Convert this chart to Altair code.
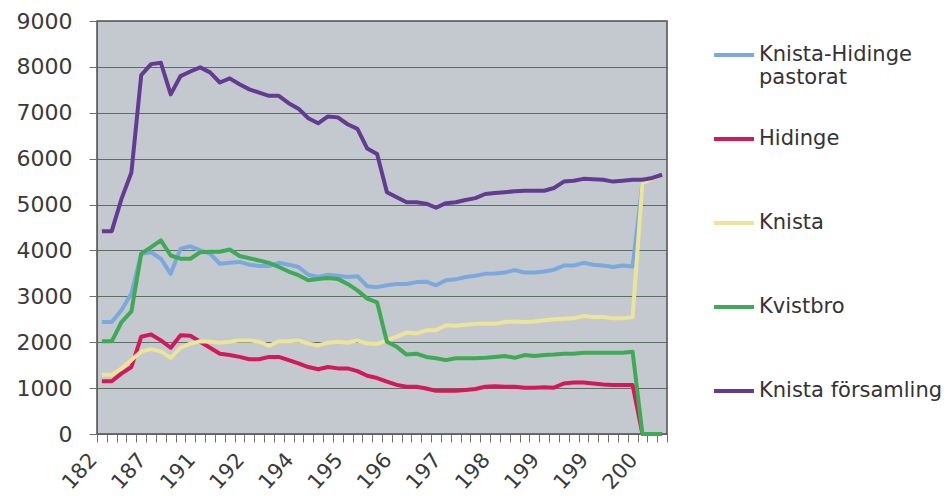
import altair as alt
import pandas as pd

series = ["Knista-Hidinge pastorat", "Hidinge", "Knista", "Kvistbro", "Knista församling"]
colors = ["#7BA9DE", "#D2195A", "#ECE49A", "#3FAA55", "#633C91"]
tick_labels = ["182", "187", "191", "192", "194", "195", "196", "197", "198", "199", "199", "200"]

pastorat = [2440, 2440, 2700, 3060, 3930, 3960, 3820, 3490, 4040, 4090,
            4000, 3930, 3710, 3730, 3750, 3690, 3660, 3660, 3730, 3690,
            3640, 3470, 3420, 3470, 3450, 3420, 3440, 3220, 3200, 3240,
            3270, 3270, 3310, 3320, 3240, 3350, 3370, 3420, 3450, 3490,
            3500, 3520, 3570, 3520, 3520, 3540, 3580, 3670, 3670, 3730,
            3690, 3670, 3640, 3670, 3650, 5460, 5560, 5640]
hidinge = [1150, 1150, 1320, 1460, 2120, 2170, 2040, 1880, 2150, 2140,
           2010, 1880, 1750, 1720, 1680, 1630, 1630, 1680, 1680, 1610,
           1540, 1460, 1410, 1460, 1430, 1430, 1370, 1270, 1220, 1140,
           1070, 1030, 1030, 990, 940, 940, 940, 960, 980, 1030,
           1040, 1030, 1030, 1010, 1010, 1020, 1010, 1100, 1120, 1120,
           1100, 1080, 1070, 1070, 1070, 0, 0, 0]
knista = [1290, 1290, 1430, 1610, 1800, 1850, 1800, 1660, 1880, 1970,
          2020, 2010, 1990, 2010, 2040, 2040, 2010, 1920, 2020, 2020,
          2040, 1970, 1930, 1990, 2010, 1990, 2040, 1970, 1960, 2040,
          2120, 2210, 2190, 2260, 2260, 2370, 2360, 2380, 2400, 2400,
          2400, 2440, 2450, 2440, 2450, 2480, 2500, 2510, 2520, 2570,
          2550, 2550, 2520, 2520, 2550, 5460, 5560, 5640]
kvistbro = [2020, 2020, 2440, 2670, 3930, 4070, 4220, 3890, 3820, 3820,
            3960, 3970, 3970, 4020, 3880, 3830, 3780, 3730, 3640, 3540,
            3460, 3350, 3380, 3400, 3380, 3270, 3130, 2950, 2870, 2010,
            1900, 1730, 1750, 1680, 1650, 1610, 1650, 1650, 1650, 1660,
            1680, 1700, 1660, 1720, 1700, 1720, 1730, 1750, 1750, 1770,
            1770, 1770, 1770, 1770, 1790, 0, 0, 0]
forsamling = [4420, 4420, 5130, 5700, 7820, 8060, 8090, 7400, 7800, 7900,
              7990, 7880, 7660, 7750, 7620, 7510, 7440, 7370, 7370, 7210,
              7090, 6880, 6770, 6920, 6900, 6750, 6650, 6220, 6100, 5270,
              5160, 5050, 5050, 5020, 4930, 5030, 5050, 5100, 5140, 5230,
              5250, 5270, 5290, 5300, 5300, 5300, 5360, 5500, 5520, 5560,
              5550, 5540, 5500, 5520, 5540, 5540, 5580, 5650]

rows = []
for name, vals in zip(series, [pastorat, hidinge, knista, kvistbro, forsamling]):
    for i, v in enumerate(vals):
        rows.append({"serie": name, "pos": i + 0.5, "value": v})
df = pd.DataFrame(rows)

n_cat = len(forsamling)
label_arr = "[" + ",".join("'%s'" % t for t in tick_labels) + "]"
label_expr = ("datum.value %% 5 == 0 && datum.value <= %d ? %s[datum.value / 5] : ''"
              % (5 * (len(tick_labels) - 1), label_arr))

first_parts = series[0].split(" ")
legend_expr = ("datum.label == '%s' ? ['%s', '%s'] : datum.label"
               % (series[0], first_parts[0], first_parts[1]))

chart = alt.Chart(df).mark_line(strokeWidth=4, strokeJoin="round").encode(
    x=alt.X("pos:Q",
            scale=alt.Scale(domain=[0, n_cat], nice=False, zero=False),
            axis=alt.Axis(values=list(range(n_cat + 1)), labelExpr=label_expr,
                          title=None, grid=False, labelAngle=-48,
                          labelAlign="right", labelBaseline="top",
                          labelOffset=-12, labelPadding=7, tickSize=8,
                          labelFontSize=21,
                          labelOverlap=False, labelFlush=False)),
    y=alt.Y("value:Q",
            scale=alt.Scale(domain=[0, 9000], nice=False),
            axis=alt.Axis(values=list(range(0, 9001, 1000)), title=None,
                          format="d", tickSize=8, labelPadding=17, grid=True)),
    color=alt.Color("serie:N",
                    scale=alt.Scale(domain=series, range=colors),
                    legend=alt.Legend(title=None, orient="none",
                                      legendX=615, legendY=-8,
                                      symbolType="stroke", symbolSize=1600,
                                      symbolStrokeWidth=4,
                                      labelFontSize=21, labelFont="DejaVu Sans",
                                      labelColor="#333333", labelOffset=3,
                                      labelBaseline="middle",
                                      labelExpr=legend_expr,
                                      clipHeight=84,
                                      rowPadding=0, padding=0, labelLimit=300)),
).properties(
    width=570, height=413,
    padding={"left": 89, "top": 13, "right": 275, "bottom": 66},
    autosize=alt.AutoSizeParams(type="none"),
).configure_view(
    fill="#C4C9CF", stroke="#4d4d4d", strokeWidth=1.5
).configure_axis(
    labelFont="DejaVu Sans", labelFontSize=22, labelColor="#3a3a3a",
    tickColor="#707070", domainColor="#606060", gridColor="#5E6E66",
    gridWidth=1, tickWidth=1
)

chart.save("out.html", embed_options={"renderer": "svg", "actions": False})
